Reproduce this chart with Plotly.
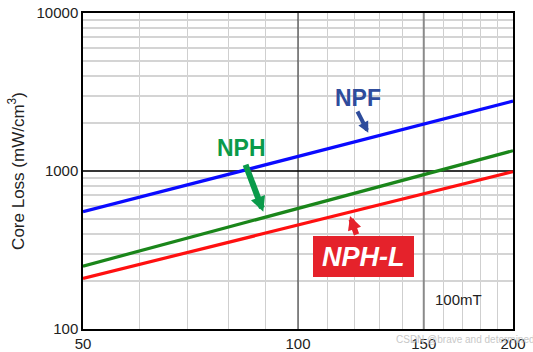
import plotly.graph_objects as go

# ---- data ----
flux_mT = [50, 200]                 # x (log axis)
npf_loss = [552, 2770]
nph_loss = [250, 1344]
nphl_loss = [209, 990]

x_tick_vals = [50, 60, 70, 80, 90, 100, 110, 120, 130, 140, 150, 160, 170, 180, 190, 200]
x_tick_text = ["50", "", "", "", "", "100", "", "", "", "", "150", "", "", "", "", "200"]
y_tick_vals = [100, 200, 300, 400, 500, 600, 700, 800, 900,
               1000, 2000, 3000, 4000, 5000, 6000, 7000, 8000, 9000, 10000]
y_tick_text = ["100"] + [""] * 8 + ["1000"] + [""] * 8 + ["10000"]

FONT = "Arial, Liberation Sans, sans-serif"

W, H = 533, 352
L, R, T, B = 83, 20, 13, 23
PW, PH = W - L - R, H - T - B


def px(x):
    return (x - L) / PW


def py(y):
    return (H - B - y) / PH


fig = go.Figure()

# emphasized grid lines
fig.add_trace(go.Scatter(x=[100, 100], y=[100, 10000], mode="lines",
                         line=dict(color="#444444", width=1.2), hoverinfo="skip", showlegend=False))
fig.add_trace(go.Scatter(x=[150, 150], y=[100, 10000], mode="lines",
                         line=dict(color="#8a8a8a", width=2), hoverinfo="skip", showlegend=False))
fig.add_trace(go.Scatter(x=[50, 200], y=[1000, 1000], mode="lines",
                         line=dict(color="#000000", width=1.5), hoverinfo="skip", showlegend=False))

fig.add_trace(go.Scatter(x=flux_mT, y=npf_loss, mode="lines", name="NPF",
                         line=dict(color="#0a0aff", width=3.2)))
fig.add_trace(go.Scatter(x=flux_mT, y=nph_loss, mode="lines", name="NPH",
                         line=dict(color="#1a861a", width=3.2)))
fig.add_trace(go.Scatter(x=flux_mT, y=nphl_loss, mode="lines", name="NPH-L",
                         line=dict(color="#ff1010", width=3.2)))

shapes = [
    dict(type="rect", xref="paper", yref="paper",
         x0=px(313), x1=px(414), y0=py(277), y1=py(236),
         fillcolor="#e5222b", line=dict(width=0), layer="above"),
]


def label(text, x, y, size, color):
    return dict(text=text, x=px(x), y=py(y), xref="paper", yref="paper",
                xanchor="center", yanchor="middle", showarrow=False,
                font=dict(family=FONT, size=size, color=color))


def arrow(tip_x, tip_y, tail_x, tail_y, width, size, color):
    return dict(text="", x=px(tip_x), y=py(tip_y), xref="paper", yref="paper",
                ax=tail_x - tip_x, ay=tail_y - tip_y, showarrow=True, arrowhead=2,
                arrowwidth=width, arrowsize=size, arrowcolor=color,
                standoff=0, startstandoff=0)


annotations = [
    label("<b>NPF</b>", 358, 98, 23, "#2e4c9c"),
    label("<b>NPH</b>", 241, 148, 23, "#0a9a4a"),
    label("<b><i>NPH-L</i></b>", 363.5, 256.5, 27, "#ffffff"),
    label("100mT", 458, 299, 15, "#222222"),
    arrow(368.3, 132.7, 356.7, 110, 4, 0.55, "#2e4c9c"),
    arrow(263.3, 211.7, 245, 163.3, 6, 0.5, "#0a9a4a"),
    arrow(350, 216, 357, 236, 5.5, 0.5, "#e5222b"),
    label("CSDN @brave and determined", 465, 339, 10, "#c8c8c8"),
]

fig.update_layout(
    width=W, height=H,
    margin=dict(l=L, r=R, t=T, b=B),
    paper_bgcolor="white", plot_bgcolor="white",
    showlegend=False,
    font=dict(family=FONT, color="#222222"),
    shapes=shapes,
    annotations=annotations,
    xaxis=dict(type="log", range=[1.69897, 2.30103], automargin=False,
               tickmode="array", tickvals=x_tick_vals, ticktext=x_tick_text,
               showgrid=True, gridcolor="#cfcfcf", gridwidth=1.3,
               showline=True, linecolor="black", linewidth=1.5, mirror=True,
               ticks="", tickfont=dict(size=15, color="#222222"), zeroline=False),
    yaxis=dict(type="log", range=[2, 4], automargin=False,
               tickmode="array", tickvals=y_tick_vals, ticktext=y_tick_text,
               showgrid=True, gridcolor="#d4d4d4", gridwidth=1.5,
               showline=True, linecolor="black", linewidth=1.5, mirror=True,
               ticks="", tickfont=dict(size=15, color="#222222"), zeroline=False,
               title=dict(text="Core Loss (mW/cm<sup>3</sup>)", standoff=8,
                          font=dict(size=17, color="#222222"))),
)

fig.write_html("out.html")
